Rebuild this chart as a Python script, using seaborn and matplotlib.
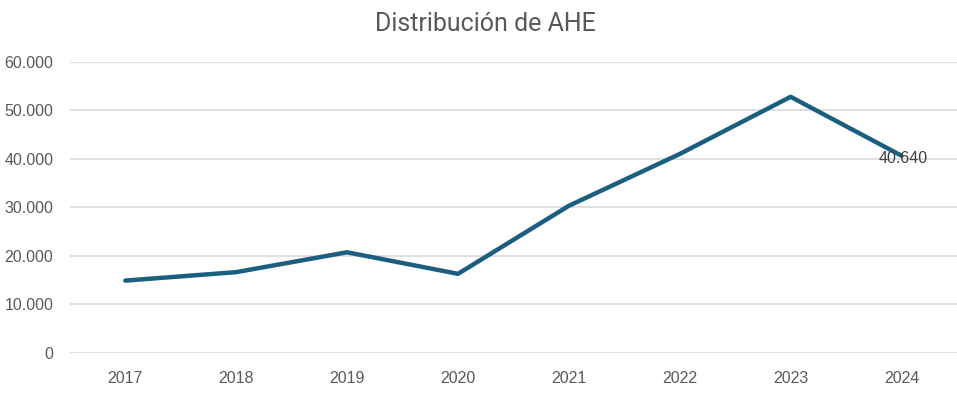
import pandas as pd
import matplotlib.pyplot as plt
import seaborn as sns

# --- DATA ---
years = ["2017", "2018", "2019", "2020", "2021", "2022", "2023", "2024"]
ahe = [14850, 16600, 20700, 16250, 30300, 41000, 52800, 40640]
y_ticks = [0, 10000, 20000, 30000, 40000, 50000, 60000]
y_tick_labels = ["0", "10.000", "20.000", "30.000", "40.000", "50.000", "60.000"]

LINE_COLOR = "#1b5e80"
TEXT_COLOR = "#595959"
GRID_COLOR = "#d9d9d9"

df = pd.DataFrame({"year": years, "ahe": ahe})

sns.set_theme(style="white")
plt.rcParams["font.family"] = ["Liberation Sans", "DejaVu Sans"]

fig = plt.figure(figsize=(9.57, 3.97), dpi=100)
ax = fig.add_axes([0.073, 0.112, 0.927, 0.732])

sns.lineplot(data=df, x="year", y="ahe", ax=ax, color=LINE_COLOR,
             linewidth=3.2, sort=False)

ax.set_xlim(-0.5, len(years) - 0.5)
ax.set_ylim(0, 60000)
ax.set_yticks(y_ticks)
ax.set_yticklabels(y_tick_labels)
ax.yaxis.grid(True, color=GRID_COLOR, linewidth=1.2)
ax.set_axisbelow(True)
for s in ax.spines.values():
    s.set_visible(False)

ax.tick_params(axis="both", colors=TEXT_COLOR, labelsize=11.5, length=0)
ax.tick_params(axis="y", pad=12)
ax.tick_params(axis="x", pad=13)
ax.set_xlabel("")
ax.set_ylabel("")

# data label on the last point
last_label = f"{ahe[-1]:,}".replace(",", ".")
ax.annotate(last_label, (len(years) - 1, ahe[-1]), xytext=(1, -2),
            textcoords="offset points", ha="center", va="center",
            fontsize=11.5, color="#404040")

fig.suptitle("Distribución de AHE", x=0.507, y=0.97, fontsize=18,
             color=TEXT_COLOR, family=["Roboto", "DejaVu Sans"])

fig.savefig("out.png", dpi=100)
